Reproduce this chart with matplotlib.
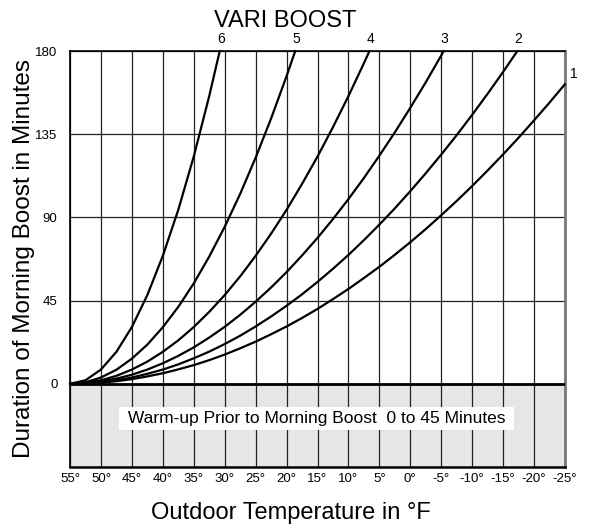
import matplotlib
matplotlib.use('Agg')
import matplotlib.pyplot as plt

plt.rcParams['font.family'] = ['Liberation Sans', 'DejaVu Sans']

# outdoor temperature, read every 2.5 degrees from 55 down
temps = [55 - 2.5 * i for i in range(33)]

# minutes of boost for each curve at the temps above
boost_1 = [0, 0.2, 0.6, 1.4, 2.5, 4.0, 5.7, 7.8, 10.1, 12.8, 15.8, 19.2, 22.8, 26.8, 31.0, 35.6,
           40.5, 45.8, 51.3, 57.2, 63.3, 69.8, 76.6, 83.7, 91.2, 98.9, 107.0, 115.4, 124.1,
           133.1, 142.5, 152.1, 162.1]
boost_2 = [0, 0.2, 0.9, 1.9, 3.4, 5.4, 7.7, 10.5, 13.8, 17.4, 21.5, 26.0, 31.0, 36.4, 42.2, 48.4,
           55.1, 62.2, 69.7, 77.7, 86.1, 94.9, 104.2, 113.9, 124.0, 134.5, 145.5, 156.9, 168.7]
boost_3 = [0, 0.3, 1.2, 2.8, 4.9, 7.7, 11.1, 15.1, 19.7, 25.0, 30.8, 37.3, 44.4, 52.1, 60.4, 69.4,
           78.9, 89.1, 99.9, 111.3, 123.4, 136.0, 149.3, 163.1, 177.6]
boost_4 = [0, 0.5, 1.9, 4.3, 7.7, 12.0, 17.3, 23.5, 30.7, 38.9, 48.0, 58.1, 69.2, 81.2, 94.1,
           108.1, 122.9, 138.8, 155.6, 173.4]
boost_5 = [0, 0.8, 3.4, 7.6, 13.6, 21.2, 30.6, 41.6, 54.3, 68.8, 84.9, 102.7, 122.3, 143.5, 166.4]
boost_6 = [0, 1.9, 7.7, 17.3, 30.7, 48.0, 69.2, 94.1, 122.9, 155.6]

curves = [boost_1, boost_2, boost_3, boost_4, boost_5, boost_6]
curve_names = ['1', '2', '3', '4', '5', '6']
# temperature where each curve reaches the 180 minute line (None = stays below)
top_temps = [None, -17.3, -5.4, 6.6, 18.6, 30.8]

tick_temps = [55, 50, 45, 40, 35, 30, 25, 20, 15, 10, 5, 0, -5, -10, -15, -20, -25]
tick_labels = [str(t) + '°' for t in tick_temps]
minute_ticks = [0, 45, 90, 135, 180]

fig = plt.figure(figsize=(5.9, 5.31), dpi=100)
ax = fig.add_axes([70 / 590, 64 / 531, 495 / 590, 416 / 531])

ax.set_xlim(55, -25)
ax.set_ylim(-45, 180)

# warm-up band under the zero line
ax.axhspan(-45, 0, color='#e5e6e8', zorder=0)
ax.text(15.2, -18.8, ' Warm-up Prior to Morning Boost  0 to 45 Minutes ', fontsize=12.5,
        ha='center', va='center', zorder=4,
        bbox=dict(boxstyle='square,pad=0.22', facecolor='white', edgecolor='none'))

ax.set_xticks(tick_temps)
ax.set_xticklabels(tick_labels, fontsize=9.5)
ax.set_yticks(minute_ticks)
ax.set_yticklabels([str(m) for m in minute_ticks], fontsize=9.5)
ax.tick_params(length=0)
ax.tick_params(axis='y', pad=9)
ax.tick_params(axis='x', pad=4)
ax.grid(True, color='#222222', linewidth=0.9)
ax.axhline(0, color='black', linewidth=2, zorder=3)

for spine in ax.spines.values():
    spine.set_color('black')
    spine.set_linewidth(1.2)
ax.spines['right'].set_color('#777777')
ax.spines['right'].set_linewidth(2)
ax.spines['bottom'].set_linewidth(1.8)

for vals, name, top in zip(curves, curve_names, top_temps):
    xs = temps[:len(vals)]
    ys = list(vals)
    if top is not None:
        xs = xs + [top]
        ys = ys + [180]
    ax.plot(xs, ys, color='black', linewidth=1.6, solid_capstyle='round', zorder=5,
            clip_on=False)
    if top is None:
        ax.annotate(name, (xs[-1], ys[-1]), xytext=(5, 3), textcoords='offset pixels',
                    ha='left', va='bottom', fontsize=10)
    else:
        ax.annotate(name, (xs[-1], ys[-1]), xytext=(1, 5), textcoords='offset pixels',
                    ha='center', va='bottom', fontsize=10)

fig.text(285 / 590, 1 - 21 / 531, 'VARI BOOST', fontsize=17, ha='center', va='center')
fig.text(291 / 590, 1 - 513 / 531, 'Outdoor Temperature in °F', fontsize=17,
         ha='center', va='center')
fig.text(24 / 590, 1 - 258 / 531, 'Duration of Morning Boost in Minutes', fontsize=17.5,
         rotation=90, ha='center', va='center')

fig.savefig('out.png', dpi=100)
